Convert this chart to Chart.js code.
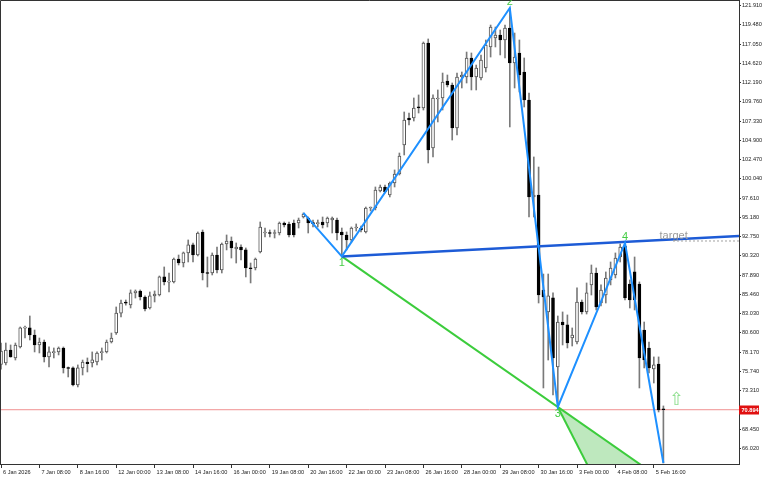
<!DOCTYPE html>
<html><head><meta charset="utf-8">
<script src="https://cdn.jsdelivr.net/npm/chart.js@4.4.1/dist/chart.umd.min.js"></script>
<style>html,body{margin:0;padding:0;background:#fff}canvas{display:block}</style>
</head><body>
<canvas id="c" width="768" height="480"></canvas>
<script>
// ---- data (H4 bars, 6 Jan 2026 00:00 .. 5 Feb 20:00) ----
const opens = [76.60,76.80,78.44,77.43,78.82,81.20,81.22,80.33,79.07,79.45,
77.56,78.10,78.19,78.69,76.20,76.17,74.02,76.17,76.90,76.80,
76.92,78.10,78.19,79.45,80.58,83.10,84.50,84.12,85.64,85.89,
85.13,83.74,85.26,85.38,87.66,87.00,87.03,89.93,89.42,90.69,
91.70,90.43,93.34,88.20,88.16,90.43,88.54,91.82,92.20,91.19,
91.44,91.07,88.80,88.79,90.81,93.21,93.25,93.15,93.21,94.47,
94.35,94.47,94.47,95.23,95.10,94.47,94.40,94.60,94.47,94.85,
94.85,93.34,92.96,92.33,93.84,93.84,93.34,96.37,96.37,98.51,
99.02,98.01,99.52,100.66,104.32,107.73,107.73,109.12,108.99,117.20,
103.94,110.13,110.26,112.40,111.90,106.47,112.91,112.91,115.31,112.91,
112.78,114.04,116.70,117.83,118.21,117.58,119.09,114.68,115.94,113.54,
110.00,97.76,98.01,86.01,83.24,85.01,76.29,81.97,81.60,79.95,
79.45,84.50,83.24,86.65,88.16,84.37,85.38,87.28,87.91,90.18,
91.57,86.77,88.29,86.77,80.96,78.69,76.04,76.67,70.95];
const highs = [79.30,79.32,79.07,79.32,81.34,81.47,82.73,80.96,79.95,79.70,
78.82,78.69,78.82,78.82,76.29,76.30,76.55,77.17,77.43,78.19,
78.19,78.69,79.70,80.58,83.87,84.75,84.75,86.02,86.02,86.02,
85.26,85.76,85.89,87.78,88.92,88.16,90.05,90.43,90.81,92.33,
91.95,93.34,93.59,90.18,90.69,91.44,91.95,92.96,92.71,91.95,
91.70,91.32,89.42,90.05,94.60,93.84,93.59,93.59,94.60,94.60,
94.60,94.85,95.10,95.74,95.23,94.85,94.85,95.23,95.23,95.23,
95.10,93.84,93.34,93.97,94.35,94.09,96.49,96.49,99.02,99.27,
99.27,99.65,101.17,103.31,108.49,108.36,110.26,110.64,117.33,117.71,
110.64,111.27,113.41,113.16,112.15,113.41,113.54,116.06,115.94,114.42,
115.69,117.58,119.47,119.22,118.84,119.47,121.62,118.46,117.58,115.31,
110.89,102.81,101.54,88.03,88.03,85.64,82.73,83.24,82.86,81.22,
86.27,84.75,86.90,89.17,88.79,86.65,88.29,89.55,90.69,91.82,
91.95,87.28,90.18,87.03,81.97,79.45,77.56,77.56,71.37];
const lows = [76.00,76.55,77.52,77.17,78.69,79.95,79.70,78.19,78.06,76.92,
76.29,77.43,77.81,75.53,75.03,73.90,73.77,75.28,75.66,76.29,
76.55,77.17,78.06,79.32,80.40,82.60,84.10,83.74,85.00,84.75,
83.36,83.61,84.50,85.26,86.65,85.76,86.90,89.17,88.92,89.55,
89.55,90.31,87.28,86.39,87.91,88.16,88.16,91.07,90.05,89.42,
89.80,87.66,86.90,88.54,90.69,92.71,92.71,92.58,92.96,93.97,
92.71,92.71,93.84,95.10,93.21,93.97,93.97,93.84,93.97,93.21,
92.33,90.25,91.07,92.08,93.46,93.34,93.21,95.99,96.12,98.39,
98.26,97.76,99.02,100.53,103.06,106.85,107.35,108.36,108.74,102.05,
102.81,107.23,108.74,111.65,104.95,105.59,111.52,112.15,111.27,111.27,
112.53,113.54,115.43,116.70,115.69,115.31,106.60,111.52,111.01,109.12,
95.23,95.23,84.37,73.64,77.17,72.76,71.24,79.07,78.69,78.94,
79.20,82.98,82.98,85.38,83.49,83.99,84.37,86.65,87.53,89.55,
84.75,83.74,83.49,73.64,76.17,75.53,74.27,70.61,64.17];
const closes = [78.30,78.44,77.56,79.07,81.22,81.30,80.33,79.07,79.45,77.56,
78.19,78.20,78.69,76.17,76.10,74.02,76.17,76.92,76.70,77.20,
78.06,78.20,79.45,79.95,83.11,84.37,84.35,85.64,85.89,85.13,
83.61,85.26,85.51,87.66,87.03,87.10,89.93,89.42,90.69,91.70,
90.43,93.21,88.16,88.10,90.43,88.54,91.82,92.20,91.32,91.44,
91.07,88.79,88.70,89.93,93.97,93.30,93.15,93.25,94.47,94.22,
92.96,92.96,94.85,95.60,94.47,94.40,94.50,94.22,95.10,95.10,
93.21,92.96,92.33,93.84,93.90,93.59,96.37,96.40,98.64,99.02,
98.39,99.52,100.66,102.93,107.48,107.48,108.99,109.00,117.20,103.69,
110.26,110.20,112.28,111.90,106.47,112.91,113.16,115.31,112.91,114.04,
115.05,116.95,119.22,118.21,117.58,119.09,114.68,115.43,113.16,110.00,
97.76,98.01,85.38,85.13,85.26,77.43,81.97,81.60,79.32,80.33,
84.50,83.24,85.64,88.16,83.87,86.01,87.53,88.79,90.05,91.44,
85.01,84.75,84.75,77.43,77.17,76.17,76.55,70.86,70.894];

const timeLabels = ['6 Jan 2026','7 Jan 08:00','8 Jan 16:00','12 Jan 00:00','13 Jan 08:00','14 Jan 16:00','16 Jan 00:00','19 Jan 08:00','20 Jan 16:00','22 Jan 00:00','23 Jan 08:00','26 Jan 16:00','28 Jan 00:00','29 Jan 08:00','30 Jan 16:00','3 Feb 00:00','4 Feb 08:00','5 Feb 16:00'];
const timeTickIdx = [0,8,16,24,32,40,48,56,64,72,80,88,96,104,112,120,128,136];
const yTicks = [121.910,119.480,117.050,114.620,112.190,109.760,107.330,104.900,102.470,100.040,97.610,95.180,92.750,90.320,87.890,85.460,83.030,80.600,78.170,75.740,73.310,68.450,66.020];

// zigzag pivots
const zzIndex  = [63, 71, 106, 116, 130, 138];
const zzPrice  = [95.74, 90.25, 121.62, 71.24, 91.95, 64.17];
const zzLabels = ['', '1', '2', '3', '4', ''];
// trend line from pivot 1 (ray to the right)
const baseIdx   = [71, 153.75];
const basePrice = [90.25, 92.83];
// green fan from pivots 1 and 3
const fanIdx   = [71, 116, 122];
const fanPrice = [90.25, 71.24, 64.13];
// target
const targetIdx = [140, 153.75];
const targetPrice = 92.20;
const targetText = 'target';
const targetTextIdx = 137.2;
// signal arrow
const arrowIdx = 140.8, arrowPrice = 72.06;

const xMin = -0.21, xMax = 153.75, yMin = 64.04, yMax = 122.63;
const lastPrice = closes[closes.length - 1];

function extend(k0, p0, k1, p1, k) { return p0 + (p1 - p0) * (k - k0) / (k1 - k0); }

const idx = closes.map((_, k) => k);
const upBar = idx.map(k => closes[k] >= opens[k]);

const fanEndA = 142, fanEndB = 125;
const fanA = [{x: fanIdx[0], y: fanPrice[0]}, {x: fanEndA, y: extend(fanIdx[0], fanPrice[0], fanIdx[1], fanPrice[1], fanEndA)}];
const fanB = [{x: fanIdx[1], y: fanPrice[1]}, {x: fanEndB, y: extend(fanIdx[1], fanPrice[1], fanIdx[2], fanPrice[2], fanEndB)}];
const fanPoly = [fanB[0], fanB[1], fanA[1], fanB[0]];

Chart.defaults.font.family = '"Liberation Sans", Arial, sans-serif';

const overlay = {
  id: 'overlay',
  afterDatasetsDraw(chart) {
    const {ctx, chartArea: a, scales: {x, y}} = chart;
    ctx.save();
    ctx.strokeStyle = '#333'; ctx.lineWidth = 1;
    ctx.beginPath();
    ctx.moveTo(a.left + 0.5, a.bottom); ctx.lineTo(a.left + 0.5, a.top + 0.5); ctx.lineTo(a.right, a.top + 0.5);
    ctx.stroke();
    // pivot labels
    ctx.font = '11px "Liberation Sans"'; ctx.fillStyle = '#44cc44'; ctx.textAlign = 'center';
    zzLabels.forEach((t, j) => {
      if (!t) return;
      const px = x.getPixelForValue(zzIndex[j]), py = y.getPixelForValue(zzPrice[j]);
      const nb = j > 0 ? zzPrice[j - 1] : zzPrice[j + 1];
      if (zzPrice[j] > nb) { ctx.textBaseline = 'alphabetic'; ctx.fillText(t, px, py - 3); }
      else { ctx.textBaseline = 'top'; ctx.fillText(t, px, py + 1); }
    });
    // target text
    ctx.font = '11px "Liberation Sans"'; ctx.fillStyle = '#9a9a9a'; ctx.textAlign = 'left'; ctx.textBaseline = 'alphabetic';
    ctx.fillText(targetText, x.getPixelForValue(targetTextIdx), y.getPixelForValue(targetPrice) - 2);
    // arrow
    ctx.font = '18px "DejaVu Sans"'; ctx.fillStyle = '#8fdf8f'; ctx.textAlign = 'center'; ctx.textBaseline = 'middle';
    ctx.fillText('\u21E7', x.getPixelForValue(arrowIdx), y.getPixelForValue(arrowPrice));
    // price label
    const py = Math.round(y.getPixelForValue(lastPrice));
    ctx.fillStyle = '#e01010';
    ctx.fillRect(a.right, py - 4.5, 20, 9);
    ctx.fillStyle = '#fff'; ctx.font = 'bold 5.6px "Liberation Sans"'; ctx.textAlign = 'left'; ctx.textBaseline = 'middle';
    ctx.fillText(lastPrice.toFixed(3), a.right + 2.5, py + 0.5);
    ctx.restore();
  }
};

new Chart(document.getElementById('c'), {
  type: 'bar',
  data: {
    datasets: [
      {type: 'line', data: [{x: xMin, y: lastPrice}, {x: xMax, y: lastPrice}], borderColor: '#f09090', borderWidth: 1, pointRadius: 0, order: 10},
      {type: 'bar', data: idx.map(k => ({x: k, y: [lows[k], highs[k]]})), backgroundColor: '#7a7a7a', borderWidth: 0, barThickness: 1, grouped: false, order: 9},
      {type: 'bar', data: idx.map(k => ({x: k, y: [opens[k], closes[k]]})),
        backgroundColor: idx.map(k => upBar[k] ? '#ffffff' : '#000000'),
        borderColor: idx.map(k => upBar[k] ? '#555555' : '#000000'),
        borderWidth: 1, borderSkipped: false, barThickness: 3, minBarLength: 1, grouped: false, order: 8},
      {type: 'line', data: fanPoly, fill: 'shape', backgroundColor: 'rgba(70,190,70,0.35)', borderWidth: 0, pointRadius: 0, order: 7},
      {type: 'line', data: fanA, borderColor: '#3ccc3c', borderWidth: 2, pointRadius: 0, order: 6},
      {type: 'line', data: fanB, borderColor: '#3ccc3c', borderWidth: 2, pointRadius: 0, order: 6},
      {type: 'line', data: baseIdx.map((k, j) => ({x: k, y: basePrice[j]})), borderColor: '#1d5bd6', borderWidth: 2.5, pointRadius: 0, order: 5},
      {type: 'line', data: zzIndex.map((k, j) => ({x: k, y: zzPrice[j]})), borderColor: '#1e90ff', borderWidth: 2, pointRadius: 0, order: 4},
      {type: 'line', data: targetIdx.map(k => ({x: k, y: targetPrice})), borderColor: '#a0a0a0', borderWidth: 1, borderDash: [2, 2], pointRadius: 0, order: 3}
    ]
  },
  options: {
    responsive: false, animation: false, devicePixelRatio: 1,
    layout: {padding: 0},
    plugins: {legend: {display: false}, tooltip: {enabled: false}},
    scales: {
      x: {
        type: 'linear', min: xMin, max: xMax, offset: false,
        grid: {display: true, drawOnChartArea: false, offset: false, tickLength: 4, color: '#333'},
        border: {display: true, color: '#333'},
        afterBuildTicks: s => { s.ticks = timeTickIdx.map(v => ({value: v})); },
        afterFit: s => { s.height = 16; s.paddingLeft = 0; s.paddingRight = 0; },
        ticks: {autoSkip: false, maxRotation: 0, minRotation: 0, align: 'start', padding: 1, labelOffset: 2,
          color: '#222', font: {size: 5.6},
          callback: v => timeLabels[timeTickIdx.indexOf(v)]}
      },
      y: {
        type: 'linear', position: 'right', min: yMin, max: yMax,
        grid: {display: true, drawOnChartArea: false, tickLength: 2, color: '#333'},
        border: {display: true, color: '#333'},
        afterBuildTicks: s => { s.ticks = yTicks.map(v => ({value: v})); },
        afterFit: s => { s.width = 29; s.paddingTop = 0; s.paddingBottom = 0; },
        ticks: {autoSkip: false, padding: 1, color: '#222', font: {size: 5.6}, callback: v => v.toFixed(3)}
      }
    }
  },
  plugins: [overlay]
});
</script>
</body></html>
